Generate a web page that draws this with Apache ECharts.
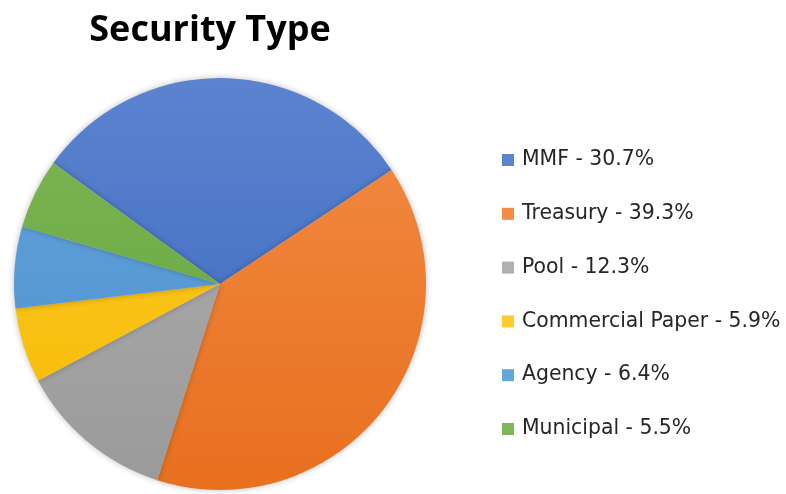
<!DOCTYPE html>
<html>
<head>
<meta charset="utf-8">
<script src="https://cdn.jsdelivr.net/npm/echarts@6/dist/echarts.min.js"></script>
<style>
  html, body { margin: 0; padding: 0; background: #fff; }
  #main { width: 786px; height: 494px; }
</style>
</head>
<body>
<div id="main"></div>
<script>
const categories = ["MMF", "Treasury", "Pool", "Commercial Paper", "Agency", "Municipal"];
const shares = [30.7, 39.3, 12.3, 5.9, 6.4, 5.5];
const colors = [
  ["#5B83D0", "#3A66BC"],
  ["#F28C45", "#E8701F"],
  ["#B0B0B0", "#9A9A9A"],
  ["#FFCB2E", "#F5BA00"],
  ["#66A5DC", "#4B8FCF"],
  ["#7DB856", "#63A03A"]
];

// pie geometry in px
const cx = 220, cy = 284, r = 206;

const chart = echarts.init(document.getElementById("main"));

const option = {
  backgroundColor: "#ffffff",
  animation: false,
  title: {
    text: "Security Type",
    left: 205,
    top: 8,
    textAlign: "center",
    textStyle: {
      fontFamily: "Open Sans",
      fontWeight: "bold",
      fontSize: 36,
      color: "#000"
    }
  },
  legend: {
    orient: "vertical",
    left: 497,
    top: 144,
    icon: "rect",
    itemWidth: 12,
    itemHeight: 12,
    itemGap: 31.8,
    selectedMode: false,
    formatter: function (name) {
      const i = categories.indexOf(name);
      return name + " - " + shares[i].toFixed(1) + "%";
    },
    textStyle: {
      fontFamily: "DejaVu Sans",
      fontSize: 20.4,
      lineHeight: 22,
      color: "#262626",
      padding: [0, 0, 0, 3]
    }
  },
  series: [
    {
      type: "pie",
      center: [cx, cy],
      radius: [0, r],
      startAngle: 144,
      clockwise: true,
      label: { show: false },
      labelLine: { show: false },
      emphasis: { disabled: true },
      itemStyle: {
        borderWidth: 0,
        shadowBlur: 6,
        shadowColor: "rgba(0,0,0,0.25)"
      },
      data: categories.map(function (name, i) {
        return {
          name: name,
          value: shares[i],
          itemStyle: {
            color: new echarts.graphic.LinearGradient(0, cy - r, 0, cy + r, [
              { offset: 0, color: colors[i][0] },
              { offset: 1, color: colors[i][1] }
            ], true)
          }
        };
      })
    }
  ]
};

chart.setOption(option);
</script>
</body>
</html>
